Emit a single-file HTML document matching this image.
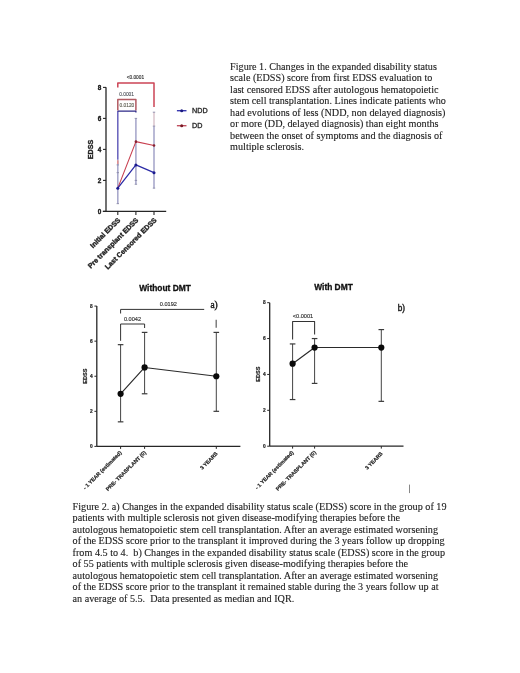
<!DOCTYPE html>
<html><head><meta charset="utf-8"><title>Figures</title>
<style>html,body{margin:0;padding:0;background:#fff;}svg{display:block;}</style></head>
<body><svg width="520" height="673" viewBox="0 0 520 673">
<rect width="520" height="673" fill="#ffffff"/>
<g>
<text x="230.10" y="70.00" font-family="Liberation Serif, serif" font-size="10.16" font-weight="normal" text-anchor="start" fill="#1c1c1c" textLength="206.8" lengthAdjust="spacingAndGlyphs" stroke="#222" stroke-width="0.12">Figure 1. Changes in the expanded disability status</text>
<text x="230.10" y="81.47" font-family="Liberation Serif, serif" font-size="10.16" font-weight="normal" text-anchor="start" fill="#1c1c1c" textLength="202.2" lengthAdjust="spacingAndGlyphs" stroke="#222" stroke-width="0.12">scale (EDSS) score from first EDSS evaluation to</text>
<text x="230.10" y="92.94" font-family="Liberation Serif, serif" font-size="10.16" font-weight="normal" text-anchor="start" fill="#1c1c1c" textLength="208.4" lengthAdjust="spacingAndGlyphs" stroke="#222" stroke-width="0.12">last censored EDSS after autologous hematopoietic</text>
<text x="230.10" y="104.41" font-family="Liberation Serif, serif" font-size="10.16" font-weight="normal" text-anchor="start" fill="#1c1c1c" textLength="215.8" lengthAdjust="spacingAndGlyphs" stroke="#222" stroke-width="0.12">stem cell transplantation. Lines indicate patients who</text>
<text x="230.10" y="115.88" font-family="Liberation Serif, serif" font-size="10.16" font-weight="normal" text-anchor="start" fill="#1c1c1c" textLength="215.3" lengthAdjust="spacingAndGlyphs" stroke="#222" stroke-width="0.12">had evolutions of less (NDD, non delayed diagnosis)</text>
<text x="230.10" y="127.35" font-family="Liberation Serif, serif" font-size="10.16" font-weight="normal" text-anchor="start" fill="#1c1c1c" textLength="208.4" lengthAdjust="spacingAndGlyphs" stroke="#222" stroke-width="0.12">or more (DD, delayed diagnosis) than eight months</text>
<text x="230.10" y="138.82" font-family="Liberation Serif, serif" font-size="10.16" font-weight="normal" text-anchor="start" fill="#1c1c1c" textLength="212.3" lengthAdjust="spacingAndGlyphs" stroke="#222" stroke-width="0.12">between the onset of symptoms and the diagnosis of</text>
<text x="230.10" y="150.29" font-family="Liberation Serif, serif" font-size="10.16" font-weight="normal" text-anchor="start" fill="#1c1c1c"  stroke="#222" stroke-width="0.12">multiple sclerosis.</text>
<text x="72.60" y="509.60" font-family="Liberation Serif, serif" font-size="10.16" font-weight="normal" text-anchor="start" fill="#1c1c1c" textLength="373.9" lengthAdjust="spacingAndGlyphs" stroke="#222" stroke-width="0.12">Figure 2. a) Changes in the expanded disability status scale (EDSS) score in the group of 19</text>
<text x="72.60" y="521.14" font-family="Liberation Serif, serif" font-size="10.16" font-weight="normal" text-anchor="start" fill="#1c1c1c" textLength="327.4" lengthAdjust="spacingAndGlyphs" stroke="#222" stroke-width="0.12">patients with multiple sclerosis not given disease-modifying therapies before the</text>
<text x="72.60" y="532.68" font-family="Liberation Serif, serif" font-size="10.16" font-weight="normal" text-anchor="start" fill="#1c1c1c" textLength="365.4" lengthAdjust="spacingAndGlyphs" stroke="#222" stroke-width="0.12">autologous hematopoietic stem cell transplantation. After an average estimated worsening</text>
<text x="72.60" y="544.22" font-family="Liberation Serif, serif" font-size="10.16" font-weight="normal" text-anchor="start" fill="#1c1c1c" textLength="372.1" lengthAdjust="spacingAndGlyphs" stroke="#222" stroke-width="0.12">of the EDSS score prior to the transplant it improved during the 3 years follow up dropping</text>
<text x="72.60" y="555.76" font-family="Liberation Serif, serif" font-size="10.16" font-weight="normal" text-anchor="start" fill="#1c1c1c" textLength="372.4" lengthAdjust="spacingAndGlyphs" stroke="#222" stroke-width="0.12">from 4.5 to 4.&#160; b) Changes in the expanded disability status scale (EDSS) score in the group</text>
<text x="72.60" y="567.30" font-family="Liberation Serif, serif" font-size="10.16" font-weight="normal" text-anchor="start" fill="#1c1c1c" textLength="335.4" lengthAdjust="spacingAndGlyphs" stroke="#222" stroke-width="0.12">of 55 patients with multiple sclerosis given disease-modifying therapies before the</text>
<text x="72.60" y="578.84" font-family="Liberation Serif, serif" font-size="10.16" font-weight="normal" text-anchor="start" fill="#1c1c1c" textLength="365.4" lengthAdjust="spacingAndGlyphs" stroke="#222" stroke-width="0.12">autologous hematopoietic stem cell transplantation. After an average estimated worsening</text>
<text x="72.60" y="590.38" font-family="Liberation Serif, serif" font-size="10.16" font-weight="normal" text-anchor="start" fill="#1c1c1c" textLength="365.9" lengthAdjust="spacingAndGlyphs" stroke="#222" stroke-width="0.12">of the EDSS score prior to the transplant it remained stable during the 3 years follow up at</text>
<text x="72.60" y="601.92" font-family="Liberation Serif, serif" font-size="10.16" font-weight="normal" text-anchor="start" fill="#1c1c1c" textLength="221.7" lengthAdjust="spacingAndGlyphs" stroke="#222" stroke-width="0.12">an average of 5.5.&#160; Data presented as median and IQR.</text>
<line x1="117.80" y1="160.25" x2="117.80" y2="203.65" stroke="#a9a9cc" stroke-width="1.6" />
<line x1="135.90" y1="118.40" x2="135.90" y2="184.28" stroke="#a9a9cc" stroke-width="1.6" />
<line x1="154.00" y1="126.15" x2="154.00" y2="188.15" stroke="#a9a9cc" stroke-width="1.6" />
<line x1="154.00" y1="112.20" x2="154.00" y2="126.15" stroke="#dcc8d0" stroke-width="1.6" />
<line x1="117.80" y1="160.25" x2="117.80" y2="164.12" stroke="#e09090" stroke-width="1.6" />
<line x1="116.60" y1="203.65" x2="119.00" y2="203.65" stroke="#8a8aa8" stroke-width="0.9" />
<line x1="116.60" y1="172.65" x2="119.00" y2="172.65" stroke="#8a8aa8" stroke-width="0.9" />
<line x1="116.60" y1="164.90" x2="119.00" y2="164.90" stroke="#8a8aa8" stroke-width="0.9" />
<line x1="134.70" y1="118.40" x2="137.10" y2="118.40" stroke="#8a8aa8" stroke-width="0.9" />
<line x1="134.70" y1="180.40" x2="137.10" y2="180.40" stroke="#8a8aa8" stroke-width="0.9" />
<line x1="134.70" y1="184.28" x2="137.10" y2="184.28" stroke="#8a8aa8" stroke-width="0.9" />
<line x1="152.80" y1="126.15" x2="155.20" y2="126.15" stroke="#8a8aa8" stroke-width="0.9" />
<line x1="152.80" y1="112.20" x2="155.20" y2="112.20" stroke="#8a8aa8" stroke-width="0.9" />
<line x1="152.80" y1="188.15" x2="155.20" y2="188.15" stroke="#8a8aa8" stroke-width="0.9" />
<polyline points="117.80,87.50 117.80,83.10 154.00,83.10 154.00,107.00" fill="none" stroke="#cc4455" stroke-width="1.5" stroke-linejoin="round"/>
<polyline points="117.80,110.40 117.80,99.60 135.90,99.60 135.90,110.40" fill="none" stroke="#b25a62" stroke-width="1.5" stroke-linejoin="round"/>
<line x1="117.80" y1="111.00" x2="117.80" y2="159.70" stroke="#6660bc" stroke-width="1.5" />
<polyline points="117.80,111.20 135.90,111.20 135.90,112.60" fill="none" stroke="#2e2a88" stroke-width="1.3" stroke-linejoin="round"/>
<text x="135.40" y="79.10" font-family="Liberation Sans, sans-serif" font-size="4.75" font-weight="normal" text-anchor="middle" fill="#333" stroke="#333" stroke-width="0.15" >&lt;0.0001</text>
<text x="126.60" y="95.90" font-family="Liberation Sans, sans-serif" font-size="4.85" font-weight="normal" text-anchor="middle" fill="#4c5058" stroke="#4c5058" stroke-width="0.1" >0.0001</text>
<text x="126.90" y="107.10" font-family="Liberation Sans, sans-serif" font-size="4.85" font-weight="normal" text-anchor="middle" fill="#58584a" stroke="#58584a" stroke-width="0.1" >0.0120</text>
<polyline points="117.80,188.15 135.90,141.65 154.00,145.53" fill="none" stroke="#c84050" stroke-width="1.1" stroke-linejoin="round"/>
<polyline points="117.80,188.15 135.90,164.90 154.00,172.65" fill="none" stroke="#2b2ba6" stroke-width="1.25" stroke-linejoin="round"/>
<circle cx="135.90" cy="141.65" r="1.3" fill="#8a2030"/>
<circle cx="154.00" cy="145.53" r="1.3" fill="#8a2030"/>
<circle cx="117.80" cy="188.15" r="1.5" fill="#1a1a90"/>
<circle cx="135.90" cy="164.90" r="1.5" fill="#1a1a90"/>
<circle cx="154.00" cy="172.65" r="1.5" fill="#1a1a90"/>
<line x1="106.00" y1="87.20" x2="106.00" y2="211.40" stroke="#262626" stroke-width="1.3" />
<line x1="102.80" y1="211.40" x2="166.20" y2="211.40" stroke="#262626" stroke-width="1.3" />
<line x1="103.00" y1="211.40" x2="106.00" y2="211.40" stroke="#262626" stroke-width="1.1" />
<text x="101.30" y="213.70" font-family="Liberation Sans, sans-serif" font-size="6.4" font-weight="bold" text-anchor="end" fill="#1a1a1a" stroke="#1a1a1a" stroke-width="0.35" >0</text>
<line x1="103.00" y1="180.40" x2="106.00" y2="180.40" stroke="#262626" stroke-width="1.1" />
<text x="101.30" y="182.70" font-family="Liberation Sans, sans-serif" font-size="6.4" font-weight="bold" text-anchor="end" fill="#1a1a1a" stroke="#1a1a1a" stroke-width="0.35" >2</text>
<line x1="103.00" y1="149.40" x2="106.00" y2="149.40" stroke="#262626" stroke-width="1.1" />
<text x="101.30" y="151.70" font-family="Liberation Sans, sans-serif" font-size="6.4" font-weight="bold" text-anchor="end" fill="#1a1a1a" stroke="#1a1a1a" stroke-width="0.35" >4</text>
<line x1="103.00" y1="118.40" x2="106.00" y2="118.40" stroke="#262626" stroke-width="1.1" />
<text x="101.30" y="120.70" font-family="Liberation Sans, sans-serif" font-size="6.4" font-weight="bold" text-anchor="end" fill="#1a1a1a" stroke="#1a1a1a" stroke-width="0.35" >6</text>
<line x1="103.00" y1="87.40" x2="106.00" y2="87.40" stroke="#262626" stroke-width="1.1" />
<text x="101.30" y="89.70" font-family="Liberation Sans, sans-serif" font-size="6.4" font-weight="bold" text-anchor="end" fill="#1a1a1a" stroke="#1a1a1a" stroke-width="0.35" >8</text>
<line x1="117.80" y1="211.40" x2="117.80" y2="215.00" stroke="#262626" stroke-width="1.1" />
<line x1="135.90" y1="211.40" x2="135.90" y2="215.00" stroke="#262626" stroke-width="1.1" />
<line x1="154.00" y1="211.40" x2="154.00" y2="215.00" stroke="#262626" stroke-width="1.1" />
<text x="0" y="0" transform="translate(92.80,149.50) rotate(-90)" font-family="Liberation Sans, sans-serif" font-size="7.1" font-weight="bold" text-anchor="middle" fill="#222" stroke="#222" stroke-width="0.35">EDSS</text>
<text x="0" y="0" transform="translate(120.80,220.60) rotate(-45)" font-family="Liberation Sans, sans-serif" font-size="7.0" font-weight="bold" text-anchor="end" fill="#222" stroke="#222" stroke-width="0.35">Initial EDSS</text>
<text x="0" y="0" transform="translate(138.90,220.60) rotate(-45)" font-family="Liberation Sans, sans-serif" font-size="7.0" font-weight="bold" text-anchor="end" fill="#222" stroke="#222" stroke-width="0.35">Pre transplant EDSS</text>
<text x="0" y="0" transform="translate(157.00,220.60) rotate(-45)" font-family="Liberation Sans, sans-serif" font-size="7.0" font-weight="bold" text-anchor="end" fill="#222" stroke="#222" stroke-width="0.35">Last Censored EDSS</text>
<line x1="176.90" y1="110.70" x2="186.50" y2="110.70" stroke="#3a3ab0" stroke-width="1.4" />
<circle cx="181.70" cy="110.70" r="1.5" fill="#1a1a80"/>
<line x1="176.90" y1="125.70" x2="186.50" y2="125.70" stroke="#c05060" stroke-width="1.4" />
<circle cx="181.70" cy="125.70" r="1.5" fill="#7a1a25"/>
<text x="192.10" y="113.20" font-family="Liberation Sans, sans-serif" font-size="7.2" font-weight="normal" text-anchor="start" fill="#222" stroke="#222" stroke-width="0.3" >NDD</text>
<text x="192.10" y="128.10" font-family="Liberation Sans, sans-serif" font-size="7.2" font-weight="normal" text-anchor="start" fill="#222" stroke="#222" stroke-width="0.3" >DD</text>
<line x1="120.60" y1="421.84" x2="120.60" y2="344.67" stroke="#444" stroke-width="1.0" />
<line x1="117.80" y1="421.84" x2="123.40" y2="421.84" stroke="#3a3a3a" stroke-width="1.2" />
<line x1="117.80" y1="344.67" x2="123.40" y2="344.67" stroke="#3a3a3a" stroke-width="1.2" />
<line x1="144.60" y1="393.78" x2="144.60" y2="332.39" stroke="#444" stroke-width="1.0" />
<line x1="141.80" y1="393.78" x2="147.40" y2="393.78" stroke="#3a3a3a" stroke-width="1.2" />
<line x1="141.80" y1="332.39" x2="147.40" y2="332.39" stroke="#3a3a3a" stroke-width="1.2" />
<line x1="216.30" y1="411.32" x2="216.30" y2="332.39" stroke="#444" stroke-width="1.0" />
<line x1="213.50" y1="411.32" x2="219.10" y2="411.32" stroke="#3a3a3a" stroke-width="1.2" />
<line x1="213.50" y1="332.39" x2="219.10" y2="332.39" stroke="#3a3a3a" stroke-width="1.2" />
<polyline points="120.60,393.78 144.60,367.47 216.30,376.24" fill="none" stroke="#2a2a2a" stroke-width="1.15" stroke-linejoin="round"/>
<circle cx="120.60" cy="393.78" r="3.1" fill="#0a0a0a"/>
<circle cx="144.60" cy="367.47" r="3.1" fill="#0a0a0a"/>
<circle cx="216.30" cy="376.24" r="3.1" fill="#0a0a0a"/>
<polyline points="120.60,313.50 120.60,309.40 204.20,309.40" fill="none" stroke="#333" stroke-width="1.0" stroke-linejoin="round"/>
<polyline points="120.60,340.80 120.60,324.00 144.60,324.00 144.60,328.00" fill="none" stroke="#333" stroke-width="1.0" stroke-linejoin="round"/>
<line x1="216.20" y1="319.80" x2="216.20" y2="327.80" stroke="#6a6a6a" stroke-width="1.3" />
<text x="132.50" y="320.60" font-family="Liberation Sans, sans-serif" font-size="5.6" font-weight="normal" text-anchor="middle" fill="#333" stroke="#333" stroke-width="0.15" >0.0042</text>
<text x="168.40" y="306.00" font-family="Liberation Sans, sans-serif" font-size="5.6" font-weight="normal" text-anchor="middle" fill="#333" stroke="#333" stroke-width="0.15" >0.0192</text>
<text x="210.40" y="307.60" font-family="Liberation Serif, serif" font-size="9.4" font-weight="normal" text-anchor="start" fill="#1a1a1a" stroke="#1a1a1a" stroke-width="0.45" >a)</text>
<line x1="96.80" y1="306.10" x2="96.80" y2="446.40" stroke="#262626" stroke-width="1.3" />
<line x1="96.80" y1="446.40" x2="240.40" y2="446.40" stroke="#262626" stroke-width="1.3" />
<line x1="94.40" y1="446.40" x2="96.80" y2="446.40" stroke="#262626" stroke-width="1.0" />
<text x="92.60" y="448.10" font-family="Liberation Sans, sans-serif" font-size="4.8" font-weight="bold" text-anchor="end" fill="#222" stroke="#222" stroke-width="0.2" >0</text>
<line x1="94.40" y1="411.32" x2="96.80" y2="411.32" stroke="#262626" stroke-width="1.0" />
<text x="92.60" y="413.02" font-family="Liberation Sans, sans-serif" font-size="4.8" font-weight="bold" text-anchor="end" fill="#222" stroke="#222" stroke-width="0.2" >2</text>
<line x1="94.40" y1="376.24" x2="96.80" y2="376.24" stroke="#262626" stroke-width="1.0" />
<text x="92.60" y="377.94" font-family="Liberation Sans, sans-serif" font-size="4.8" font-weight="bold" text-anchor="end" fill="#222" stroke="#222" stroke-width="0.2" >4</text>
<line x1="94.40" y1="341.16" x2="96.80" y2="341.16" stroke="#262626" stroke-width="1.0" />
<text x="92.60" y="342.86" font-family="Liberation Sans, sans-serif" font-size="4.8" font-weight="bold" text-anchor="end" fill="#222" stroke="#222" stroke-width="0.2" >6</text>
<line x1="94.40" y1="306.08" x2="96.80" y2="306.08" stroke="#262626" stroke-width="1.0" />
<text x="92.60" y="307.78" font-family="Liberation Sans, sans-serif" font-size="4.8" font-weight="bold" text-anchor="end" fill="#222" stroke="#222" stroke-width="0.2" >8</text>
<line x1="120.60" y1="446.40" x2="120.60" y2="448.90" stroke="#262626" stroke-width="1.0" />
<line x1="144.60" y1="446.40" x2="144.60" y2="448.90" stroke="#262626" stroke-width="1.0" />
<line x1="216.30" y1="446.40" x2="216.30" y2="448.90" stroke="#262626" stroke-width="1.0" />
<text x="165.00" y="290.50" font-family="Liberation Sans, sans-serif" font-size="8.4" font-weight="bold" text-anchor="middle" fill="#111" stroke="#111" stroke-width="0.3" >Without DMT</text>
<text x="0" y="0" transform="translate(86.50,376.20) rotate(-90)" font-family="Liberation Sans, sans-serif" font-size="5.6" font-weight="bold" text-anchor="middle" fill="#222" stroke="#222" stroke-width="0.2">EDSS</text>
<text x="0" y="0" transform="translate(122.00,453.10) rotate(-45)" font-family="Liberation Sans, sans-serif" font-size="5.3" font-weight="bold" text-anchor="end" fill="#222" stroke="#222" stroke-width="0.2">- 1 YEAR (estimated)</text>
<text x="0" y="0" transform="translate(146.40,453.00) rotate(-45)" font-family="Liberation Sans, sans-serif" font-size="5.3" font-weight="bold" text-anchor="end" fill="#222" stroke="#222" stroke-width="0.2">PRE- TRASPLANT (0)</text>
<text x="0" y="0" transform="translate(218.10,454.00) rotate(-45)" font-family="Liberation Sans, sans-serif" font-size="5.3" font-weight="bold" text-anchor="end" fill="#222" stroke="#222" stroke-width="0.2">3 YEARS</text>
<line x1="292.60" y1="399.56" x2="292.60" y2="343.94" stroke="#444" stroke-width="1.0" />
<line x1="289.80" y1="399.56" x2="295.40" y2="399.56" stroke="#3a3a3a" stroke-width="1.2" />
<line x1="289.80" y1="343.94" x2="295.40" y2="343.94" stroke="#3a3a3a" stroke-width="1.2" />
<line x1="314.60" y1="383.41" x2="314.60" y2="338.56" stroke="#444" stroke-width="1.0" />
<line x1="311.80" y1="383.41" x2="317.40" y2="383.41" stroke="#3a3a3a" stroke-width="1.2" />
<line x1="311.80" y1="338.56" x2="317.40" y2="338.56" stroke="#3a3a3a" stroke-width="1.2" />
<line x1="381.30" y1="401.35" x2="381.30" y2="329.59" stroke="#444" stroke-width="1.0" />
<line x1="378.50" y1="401.35" x2="384.10" y2="401.35" stroke="#3a3a3a" stroke-width="1.2" />
<line x1="378.50" y1="329.59" x2="384.10" y2="329.59" stroke="#3a3a3a" stroke-width="1.2" />
<polyline points="292.60,363.68 314.60,347.53 381.30,347.53" fill="none" stroke="#2a2a2a" stroke-width="1.15" stroke-linejoin="round"/>
<circle cx="292.60" cy="363.68" r="3.1" fill="#0a0a0a"/>
<circle cx="314.60" cy="347.53" r="3.1" fill="#0a0a0a"/>
<circle cx="381.30" cy="347.53" r="3.1" fill="#0a0a0a"/>
<polyline points="292.60,339.60 292.60,321.50 314.60,321.50 314.60,334.40" fill="none" stroke="#333" stroke-width="1.05" stroke-linejoin="round"/>
<text x="303.00" y="317.60" font-family="Liberation Sans, sans-serif" font-size="5.6" font-weight="normal" text-anchor="middle" fill="#333" stroke="#333" stroke-width="0.15" >&lt;0.0001</text>
<text x="397.80" y="310.80" font-family="Liberation Sans, sans-serif" font-size="8.2" font-weight="normal" text-anchor="start" fill="#1a1a1a" stroke="#1a1a1a" stroke-width="0.4" >b)</text>
<line x1="269.70" y1="302.70" x2="269.70" y2="446.20" stroke="#262626" stroke-width="1.3" />
<line x1="269.70" y1="446.20" x2="403.50" y2="446.20" stroke="#262626" stroke-width="1.3" />
<line x1="267.20" y1="446.20" x2="269.70" y2="446.20" stroke="#262626" stroke-width="1.0" />
<text x="265.60" y="447.90" font-family="Liberation Sans, sans-serif" font-size="4.8" font-weight="bold" text-anchor="end" fill="#222" stroke="#222" stroke-width="0.2" >0</text>
<line x1="267.20" y1="410.32" x2="269.70" y2="410.32" stroke="#262626" stroke-width="1.0" />
<text x="265.60" y="412.02" font-family="Liberation Sans, sans-serif" font-size="4.8" font-weight="bold" text-anchor="end" fill="#222" stroke="#222" stroke-width="0.2" >2</text>
<line x1="267.20" y1="374.44" x2="269.70" y2="374.44" stroke="#262626" stroke-width="1.0" />
<text x="265.60" y="376.14" font-family="Liberation Sans, sans-serif" font-size="4.8" font-weight="bold" text-anchor="end" fill="#222" stroke="#222" stroke-width="0.2" >4</text>
<line x1="267.20" y1="338.56" x2="269.70" y2="338.56" stroke="#262626" stroke-width="1.0" />
<text x="265.60" y="340.26" font-family="Liberation Sans, sans-serif" font-size="4.8" font-weight="bold" text-anchor="end" fill="#222" stroke="#222" stroke-width="0.2" >6</text>
<line x1="267.20" y1="302.68" x2="269.70" y2="302.68" stroke="#262626" stroke-width="1.0" />
<text x="265.60" y="304.38" font-family="Liberation Sans, sans-serif" font-size="4.8" font-weight="bold" text-anchor="end" fill="#222" stroke="#222" stroke-width="0.2" >8</text>
<line x1="292.60" y1="446.20" x2="292.60" y2="448.60" stroke="#262626" stroke-width="1.0" />
<line x1="314.60" y1="446.20" x2="314.60" y2="448.60" stroke="#262626" stroke-width="1.0" />
<line x1="381.30" y1="446.20" x2="381.30" y2="448.60" stroke="#262626" stroke-width="1.0" />
<text x="333.50" y="290.10" font-family="Liberation Sans, sans-serif" font-size="8.4" font-weight="bold" text-anchor="middle" fill="#111" stroke="#111" stroke-width="0.3" >With DMT</text>
<text x="0" y="0" transform="translate(259.90,374.20) rotate(-90)" font-family="Liberation Sans, sans-serif" font-size="5.6" font-weight="bold" text-anchor="middle" fill="#222" stroke="#222" stroke-width="0.2">EDSS</text>
<text x="0" y="0" transform="translate(294.00,452.90) rotate(-45)" font-family="Liberation Sans, sans-serif" font-size="5.3" font-weight="bold" text-anchor="end" fill="#222" stroke="#222" stroke-width="0.2">- 1 YEAR (estimated)</text>
<text x="0" y="0" transform="translate(316.40,452.80) rotate(-45)" font-family="Liberation Sans, sans-serif" font-size="5.3" font-weight="bold" text-anchor="end" fill="#222" stroke="#222" stroke-width="0.2">PRE- TRASPLANT (0)</text>
<text x="0" y="0" transform="translate(383.10,454.00) rotate(-45)" font-family="Liberation Sans, sans-serif" font-size="5.3" font-weight="bold" text-anchor="end" fill="#222" stroke="#222" stroke-width="0.2">3 YEARS</text>
<line x1="409.50" y1="484.60" x2="409.50" y2="493.10" stroke="#888" stroke-width="1.0" />
</g>
</svg></body></html>
